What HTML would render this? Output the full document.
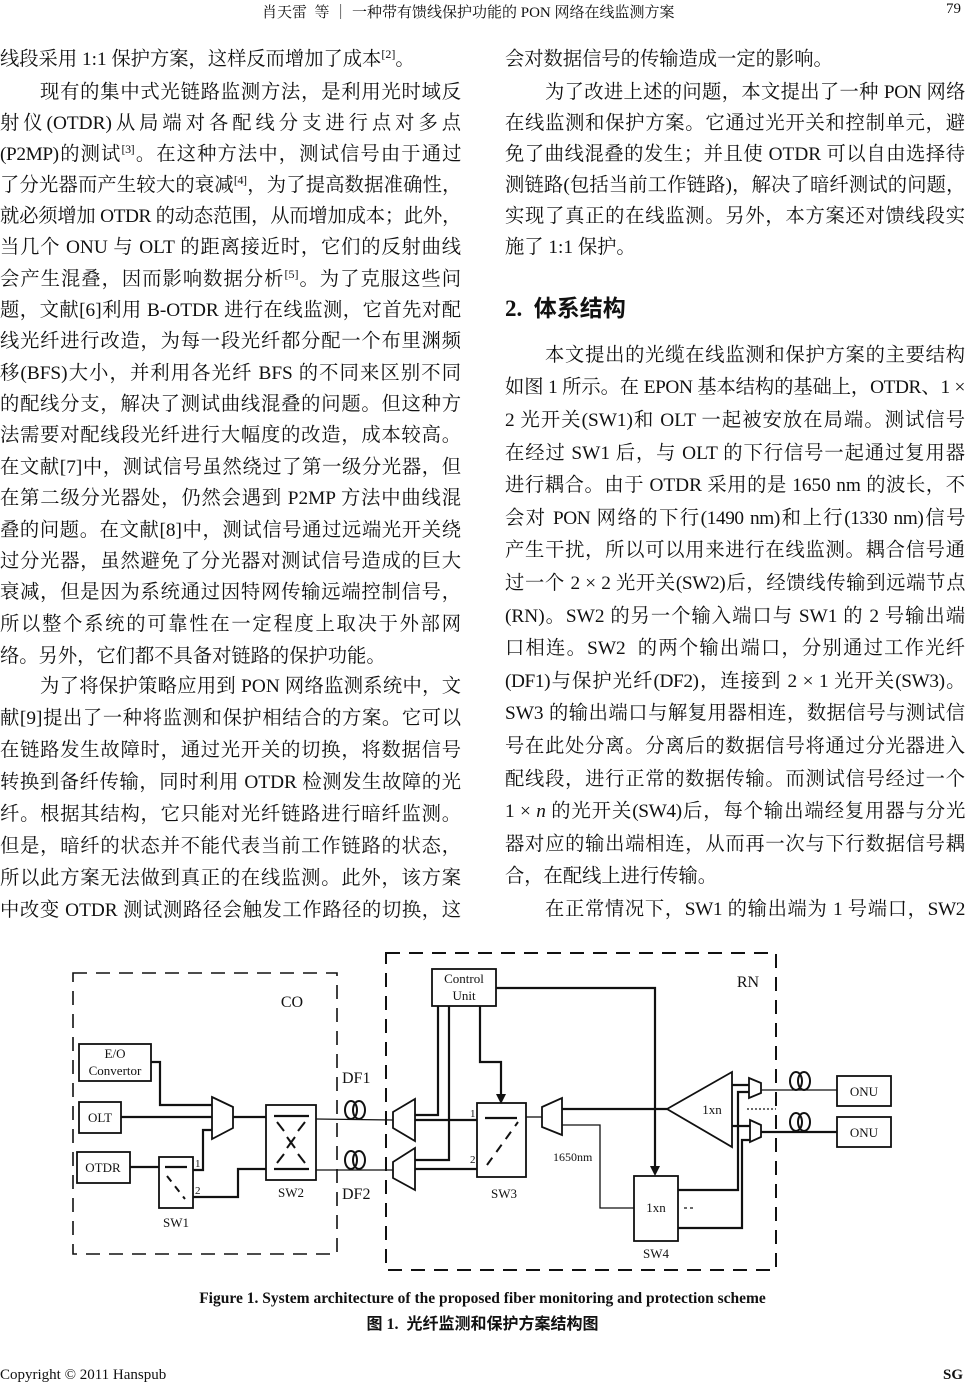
<!DOCTYPE html>
<html><head><meta charset="utf-8">
<style>
html,body{margin:0;padding:0;background:#fff;}
body{width:965px;height:1386px;position:relative;overflow:hidden;font-family:"Liberation Serif","Noto Serif CJK SC",serif;color:#111;}
.l{position:absolute;height:24px;line-height:24px;font-size:19.3px;white-space:nowrap;text-align:justify;text-align-last:justify;}
.L{left:0;width:461px;}
.R{left:505px;width:460px;}
.e{text-align-last:left;}
.i{text-indent:40px;}
.t{letter-spacing:-0.4px;}
sup{font-size:12px;line-height:0;vertical-align:7px;}
.h{position:absolute;font-size:15px;white-space:nowrap;}
svg text{font-family:"Liberation Serif",serif;}
</style></head><body>
<div class="h" style="left:262px;top:1px;">肖天雷&nbsp; 等 ｜ 一种带有馈线保护功能的 PON 网络在线监测方案</div>
<div class="h" style="left:946px;top:1px;">79</div>

<div class="l L e" style="top:48px">线段采用 1:1 保护方案，这样反而增加了成本<sup>[2]</sup>。</div>
<div class="l L i" style="top:81px">现有的集中式光链路监测方法，是利用光时域反</div>
<div class="l L" style="top:112px">射仪(OTDR)从局端对各配线分支进行点对多点</div>
<div class="l L t" style="top:143px">(P2MP)的测试<sup>[3]</sup>。在这种方法中，测试信号由于通过</div>
<div class="l L t" style="top:174px">了分光器而产生较大的衰减<sup>[4]</sup>，为了提高数据准确性，</div>
<div class="l L t" style="top:205px">就必须增加 OTDR 的动态范围，从而增加成本；此外，</div>
<div class="l L" style="top:236px">当几个 ONU 与 OLT 的距离接近时，它们的反射曲线</div>
<div class="l L" style="top:268px">会产生混叠，因而影响数据分析<sup>[5]</sup>。为了克服这些问</div>
<div class="l L" style="top:299px">题，文献[6]利用 B-OTDR 进行在线监测，它首先对配</div>
<div class="l L" style="top:330px">线光纤进行改造，为每一段光纤都分配一个布里渊频</div>
<div class="l L" style="top:362px">移(BFS)大小，并利用各光纤 BFS 的不同来区别不同</div>
<div class="l L" style="top:393px">的配线分支，解决了测试曲线混叠的问题。但这种方</div>
<div class="l L" style="top:424px">法需要对配线段光纤进行大幅度的改造，成本较高。</div>
<div class="l L" style="top:456px">在文献[7]中，测试信号虽然绕过了第一级分光器，但</div>
<div class="l L" style="top:487px">在第二级分光器处，仍然会遇到 P2MP 方法中曲线混</div>
<div class="l L" style="top:519px">叠的问题。在文献[8]中，测试信号通过远端光开关绕</div>
<div class="l L" style="top:550px">过分光器，虽然避免了分光器对测试信号造成的巨大</div>
<div class="l L" style="top:581px">衰减，但是因为系统通过因特网传输远端控制信号，</div>
<div class="l L" style="top:613px">所以整个系统的可靠性在一定程度上取决于外部网</div>
<div class="l L e" style="top:645px">络。另外，它们都不具备对链路的保护功能。</div>
<div class="l L i" style="top:675px">为了将保护策略应用到 PON 网络监测系统中，文</div>
<div class="l L" style="top:707px">献[9]提出了一种将监测和保护相结合的方案。它可以</div>
<div class="l L" style="top:739px">在链路发生故障时，通过光开关的切换，将数据信号</div>
<div class="l L" style="top:771px">转换到备纤传输，同时利用 OTDR 检测发生故障的光</div>
<div class="l L" style="top:803px">纤。根据其结构，它只能对光纤链路进行暗纤监测。</div>
<div class="l L" style="top:835px">但是，暗纤的状态并不能代表当前工作链路的状态，</div>
<div class="l L" style="top:867px">所以此方案无法做到真正的在线监测。此外，该方案</div>
<div class="l L" style="top:899px">中改变 OTDR 测试测路径会触发工作路径的切换，这</div>

<div class="l R e" style="top:48px">会对数据信号的传输造成一定的影响。</div>
<div class="l R i t" style="top:81px">为了改进上述的问题，本文提出了一种 PON 网络</div>
<div class="l R" style="top:112px">在线监测和保护方案。它通过光开关和控制单元，避</div>
<div class="l R" style="top:143px">免了曲线混叠的发生；并且使 OTDR 可以自由选择待</div>
<div class="l R t" style="top:174px">测链路(包括当前工作链路)，解决了暗纤测试的问题，</div>
<div class="l R" style="top:205px">实现了真正的在线监测。另外，本方案还对馈线段实</div>
<div class="l R e" style="top:236px">施了 1:1 保护。</div>
<div style="position:absolute;left:505px;top:289px;font-size:23px;font-weight:bold;font-family:'Liberation Serif','Noto Sans CJK SC',sans-serif;white-space:nowrap;">2.&nbsp; 体系结构</div>
<div class="l R i" style="top:344px">本文提出的光缆在线监测和保护方案的主要结构</div>
<div class="l R t" style="top:376px">如图 1 所示。在 EPON 基本结构的基础上，OTDR、1 ×</div>
<div class="l R" style="top:409px">2 光开关(SW1)和 OLT 一起被安放在局端。测试信号</div>
<div class="l R" style="top:442px">在经过 SW1 后，与 OLT 的下行信号一起通过复用器</div>
<div class="l R" style="top:474px">进行耦合。由于 OTDR 采用的是 1650 nm 的波长，不</div>
<div class="l R t" style="top:507px">会对 PON 网络的下行(1490 nm)和上行(1330 nm)信号</div>
<div class="l R" style="top:539px">产生干扰，所以可以用来进行在线监测。耦合信号通</div>
<div class="l R t" style="top:572px">过一个 2 × 2 光开关(SW2)后，经馈线传输到远端节点</div>
<div class="l R" style="top:605px">(RN)。SW2 的另一个输入端口与 SW1 的 2 号输出端</div>
<div class="l R" style="top:637px">口相连。SW2&nbsp; 的两个输出端口，分别通过工作光纤</div>
<div class="l R t" style="top:670px">(DF1)与保护光纤(DF2)，连接到 2 × 1 光开关(SW3)。</div>
<div class="l R" style="top:702px">SW3 的输出端口与解复用器相连，数据信号与测试信</div>
<div class="l R" style="top:735px">号在此处分离。分离后的数据信号将通过分光器进入</div>
<div class="l R" style="top:768px">配线段，进行正常的数据传输。而测试信号经过一个</div>
<div class="l R t" style="top:800px">1 × <i>n</i> 的光开关(SW4)后，每个输出端经复用器与分光</div>
<div class="l R" style="top:833px">器对应的输出端相连，从而再一次与下行数据信号耦</div>
<div class="l R e" style="top:865px">合，在配线上进行传输。</div>
<div class="l R i t" style="top:898px">在正常情况下，SW1 的输出端为 1 号端口，SW2</div>

<svg width="965" height="1386" style="position:absolute;left:0;top:0" xmlns="http://www.w3.org/2000/svg">
<g fill="none" stroke="#111">
<rect x="73" y="973" width="264" height="281" stroke-width="1.6" stroke-dasharray="14,9"/>
<rect x="386" y="953" width="390" height="317" stroke-width="2" stroke-dasharray="14,9"/>
<g stroke-width="1.8">
<rect x="432" y="969" width="64" height="37"/>
<rect x="79" y="1044" width="72" height="37"/>
<rect x="79" y="1102" width="42" height="31"/>
<rect x="77" y="1152" width="53" height="31"/>
<rect x="159" y="1157" width="34" height="51"/>
<rect x="266" y="1105" width="50" height="75"/>
<rect x="477" y="1103" width="49" height="74"/>
<rect x="634" y="1176" width="44" height="65"/>
<rect x="837" y="1076" width="54" height="30"/>
<rect x="837" y="1117" width="54" height="30"/>
<polygon points="212,1097 233,1107 233,1128 212,1139"/>
<polygon points="393,1112 415,1099 415,1141 393,1128"/>
<polygon points="393,1162 415,1148 415,1190 393,1178"/>
<polygon points="542,1107 562,1098 562,1135 542,1127"/>
<polygon points="749,1078 761,1083 761,1093 749,1098"/>
<polygon points="750,1120 761,1125 761,1137 750,1142"/>
<polygon points="667,1109 732,1072 732,1147"/>
</g>
<g stroke-width="2.2">
<polyline points="151,1062 160,1062 160,1105 212,1105"/>
<line x1="121" y1="1117" x2="212" y2="1117"/>
<polyline points="193,1170 203,1170 203,1130 212,1130"/>
<line x1="233" y1="1117" x2="266" y2="1117"/>
<line x1="130" y1="1167" x2="159" y2="1167"/>
<polyline points="193,1197 238,1197 238,1169 266,1169"/>
<line x1="165" y1="1167" x2="187" y2="1167"/>
<line x1="274" y1="1116" x2="309" y2="1116"/>
<line x1="274" y1="1169" x2="309" y2="1169"/>
<line x1="485" y1="1118" x2="517" y2="1118"/>
<polyline points="415,1115 438,1115 438,1006"/>
<polyline points="415,1160 449,1160 449,1006"/>
<line x1="415" y1="1120" x2="477" y2="1120"/>
<line x1="415" y1="1169" x2="477" y2="1169"/>
<polyline points="480,1006 480,1062 501,1062 501,1094"/>
<polyline points="496,988 655,988 655,1168"/>
<line x1="562" y1="1109" x2="667" y2="1109"/>
<polyline points="678,1190 738,1190 738,1092 749,1092"/>
<polyline points="678,1228 742,1228 742,1140 750,1140"/>
<line x1="732" y1="1085" x2="749" y2="1085"/>
<line x1="732" y1="1126" x2="750" y2="1126"/>
<line x1="761" y1="1132" x2="837" y2="1132"/>
</g>
<g stroke-width="1.3">
<line x1="316" y1="1119" x2="393" y2="1120"/>
<line x1="316" y1="1170" x2="393" y2="1170"/>
<line x1="526" y1="1117" x2="542" y2="1117"/>
<polyline points="562,1125 600,1125 600,1208 634,1208"/>
<line x1="761" y1="1090" x2="837" y2="1090"/>
<line x1="747" y1="1109" x2="776" y2="1109" stroke-dasharray="2,2"/>
<line x1="684" y1="1208" x2="694" y2="1208" stroke-dasharray="3,3"/>
</g>
<g stroke-width="2">
<line x1="167" y1="1176" x2="185" y2="1199" stroke-dasharray="7,6"/>
<line x1="277" y1="1122" x2="284" y2="1131"/>
<line x1="305" y1="1122" x2="298" y2="1131"/>
<line x1="277" y1="1163" x2="284" y2="1154"/>
<line x1="305" y1="1163" x2="298" y2="1154"/>
<line x1="287" y1="1137" x2="295" y2="1148"/>
<line x1="295" y1="1137" x2="287" y2="1148"/>
<line x1="487" y1="1165" x2="518" y2="1122" stroke-dasharray="9,7"/>
<ellipse cx="351" cy="1110" rx="6" ry="9"/><ellipse cx="359" cy="1110" rx="6" ry="9"/>
<ellipse cx="351" cy="1160" rx="6" ry="9"/><ellipse cx="359" cy="1160" rx="6" ry="9"/>
<ellipse cx="796" cy="1081" rx="6" ry="9"/><ellipse cx="804" cy="1081" rx="6" ry="9"/>
<ellipse cx="796" cy="1122" rx="6" ry="9"/><ellipse cx="804" cy="1122" rx="6" ry="9"/>
</g>
</g>
<polygon points="496,1094 506,1094 501,1104" fill="#111"/>
<polygon points="650,1166 660,1166 655,1176" fill="#111"/>
<g font-size="13" fill="#111">
<text x="464" y="983" text-anchor="middle">Control</text>
<text x="464" y="1000" text-anchor="middle">Unit</text>
<text x="115" y="1058" text-anchor="middle">E/O</text>
<text x="115" y="1075" text-anchor="middle">Convertor</text>
<text x="100" y="1122" text-anchor="middle">OLT</text>
<text x="103" y="1172" text-anchor="middle">OTDR</text>
<text x="864" y="1096" text-anchor="middle">ONU</text>
<text x="864" y="1137" text-anchor="middle">ONU</text>
<text x="176" y="1227" text-anchor="middle">SW1</text>
<text x="291" y="1197" text-anchor="middle">SW2</text>
<text x="504" y="1198" text-anchor="middle">SW3</text>
<text x="656" y="1258" text-anchor="middle">SW4</text>
<text x="656" y="1212" text-anchor="middle">1xn</text>
<text x="712" y="1114" text-anchor="middle">1xn</text>
<text x="553" y="1161" font-size="12">1650nm</text>
<text x="195" y="1167" font-size="11">1</text>
<text x="195" y="1194" font-size="11">2</text>
<text x="470" y="1117" font-size="11">1</text>
<text x="470" y="1163" font-size="11">2</text>
<text x="292" y="1007" text-anchor="middle" font-size="16">CO</text>
<text x="748" y="987" text-anchor="middle" font-size="16">RN</text>
<text x="342" y="1083" font-size="16">DF1</text>
<text x="342" y="1199" font-size="16">DF2</text>
</g>
</svg>

<div style="position:absolute;left:0;width:965px;top:1290px;text-align:center;font-size:15.5px;font-weight:bold;white-space:nowrap;">Figure 1. System architecture of the proposed fiber monitoring and protection scheme</div>
<div style="position:absolute;left:0;width:965px;top:1310px;text-align:center;font-size:16px;font-weight:bold;white-space:nowrap;font-family:'Liberation Serif','Noto Sans CJK SC',sans-serif;">图 1.&nbsp; 光纤监测和保护方案结构图</div>
<div style="position:absolute;left:0;top:1367px;font-size:15px;white-space:nowrap;">Copyright © 2011 Hanspub</div>
<div style="position:absolute;right:2px;top:1367px;font-size:15px;font-weight:bold;">SG</div>
</body></html>
